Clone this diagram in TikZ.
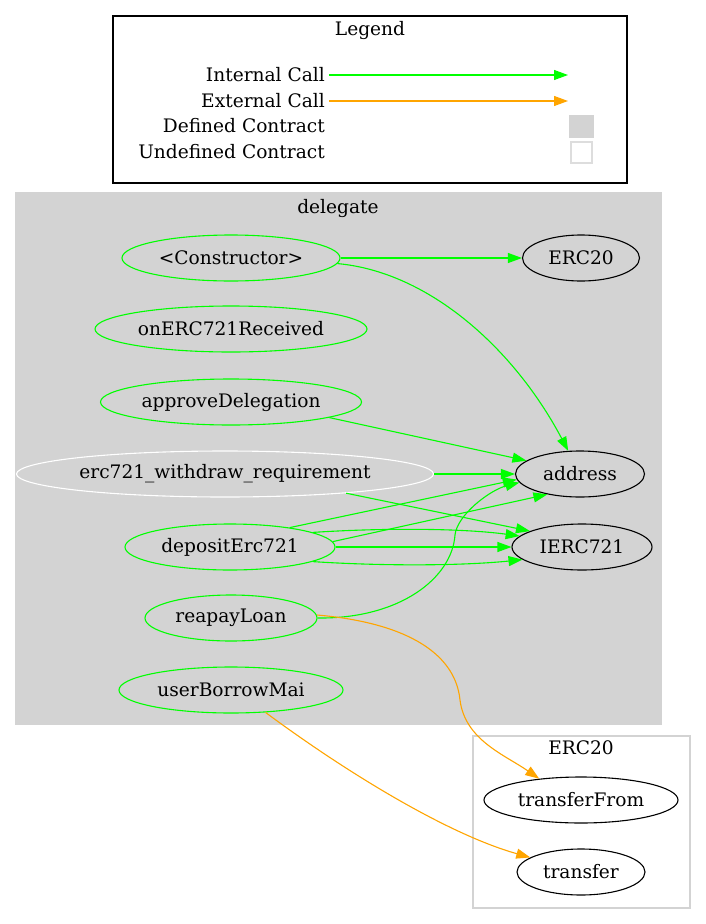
\documentclass[tikz,border=0pt]{standalone}
\usepackage{fontspec}
\setmainfont{DejaVu Serif}
\usetikzlibrary{shapes.geometric,arrows.meta}
\definecolor{gvgreen}{HTML}{00FF00}
\definecolor{gvorange}{HTML}{FFA500}
\definecolor{gvgray}{HTML}{D3D3D3}
\definecolor{gvlight}{HTML}{DDDDDD}
\begin{document}
\begin{tikzpicture}[x=1pt,y=-1pt,
  font=\fontsize{18.6}{22}\selectfont,
  fn/.style={ellipse, draw=gvgreen, line width=1.1pt, inner sep=0pt, minimum height=46pt},
  extfn/.style={ellipse, draw=black, line width=1.1pt, inner sep=0pt, minimum height=46pt},
  lbl/.style={inner sep=0pt},
  icall/.style={draw=gvgreen, line width=1.1pt, -{Triangle[length=14pt,width=10pt]}},
  ecall/.style={draw=gvorange, line width=1.1pt, -{Triangle[length=14pt,width=10pt]}},
]
\useasboundingbox (0,0) rectangle (706,924);
\fill[white] (0,0) rectangle (706,924);

% Legend
\draw[black, line width=1.1pt] (113,16) rectangle (627,183);
\node[lbl] (tleg) at (370,30) {Legend};
\node[lbl, anchor=east] (lint) at (325,75) {Internal Call};
\node[lbl, anchor=east] (lext) at (325,101) {External Call};
\node[lbl, anchor=east] (ldef) at (325,126) {Defined Contract};
\node[lbl, anchor=east] (lund) at (325,152) {Undefined Contract};
\coordinate (li1) at (329,75);
\coordinate (li2) at (568,75);
\coordinate (le1) at (329,101);
\coordinate (le2) at (568,101);
\draw[icall] (li1) -- (li2);
\draw[ecall] (le1) -- (le2);
\fill[gvgray] (569,115) rectangle (594,138);
\draw[gvlight, line width=1.1pt, fill=white] (571,142) rectangle (592,163);

% Clusters
\fill[gvgray] (15,192) rectangle (662,725);
\node[lbl] (tdel) at (338,208) {delegate};
\draw[gvgray, line width=1.1pt, fill=white] (473,736) rectangle (690,908);
\node[lbl] (terc) at (581,748) {ERC20};

% Nodes
\node[fn, minimum width=218pt] (ctor) at (231,258) {<Constructor>};
\node[fn, minimum width=272pt] (onerc) at (231,329) {onERC721Received};
\node[fn, minimum width=261pt] (appr) at (231,402) {approveDelegation};
\node[fn, draw=white, minimum width=417pt] (ewr) at (225,474) {erc721\_withdraw\_requirement};
\node[fn, minimum width=210pt] (dep) at (230,547) {depositErc721};
\node[fn, minimum width=172pt] (reap) at (231,618) {reapayLoan};
\node[fn, minimum width=224pt] (ubm) at (231,690) {userBorrowMai};
\node[extfn, minimum width=117pt] (erc20) at (581,258) {ERC20};
\node[extfn, minimum width=129pt] (addr) at (580,474) {address};
\node[extfn, minimum width=140pt] (ierc) at (582,547) {IERC721};
\node[extfn, minimum width=194pt] (tf) at (581,800) {transferFrom};
\node[extfn, minimum width=128pt] (tr) at (581,872) {transfer};

% Edges
\draw[icall] (ctor.east) -- (erc20.west);
\draw[icall] (ctor.-3) .. controls (430,272) and (515,350) .. (addr.117);
\draw[icall] (appr.-9) -- (addr.166);
\draw[icall] (ewr.east) -- (addr.west);
\draw[icall] (ewr.-9) -- (ierc.163);
\draw[icall] (dep.18) -- (addr.185);
\draw[icall] (dep.3) -- (addr.212);
\draw[icall] (dep.10) .. controls (380,528) and (460,528) .. (ierc.170);
\draw[icall] (dep.east) -- (ierc.west);
\draw[icall] (dep.-10) .. controls (380,566) and (460,566) .. (ierc.192);
\draw[icall] (reap.east) .. controls (400,619) and (452,578) .. (455,535) .. controls (457,515) and (490,490) .. (addr.188);
\draw[ecall] (reap.2) .. controls (400,622) and (455,650) .. (460,700) .. controls (465,740) and (505,755) .. (tf.153);
\draw[ecall] (ubm.-33) .. controls (350,775) and (450,835) .. (tr.164);
\end{tikzpicture}
\end{document}
